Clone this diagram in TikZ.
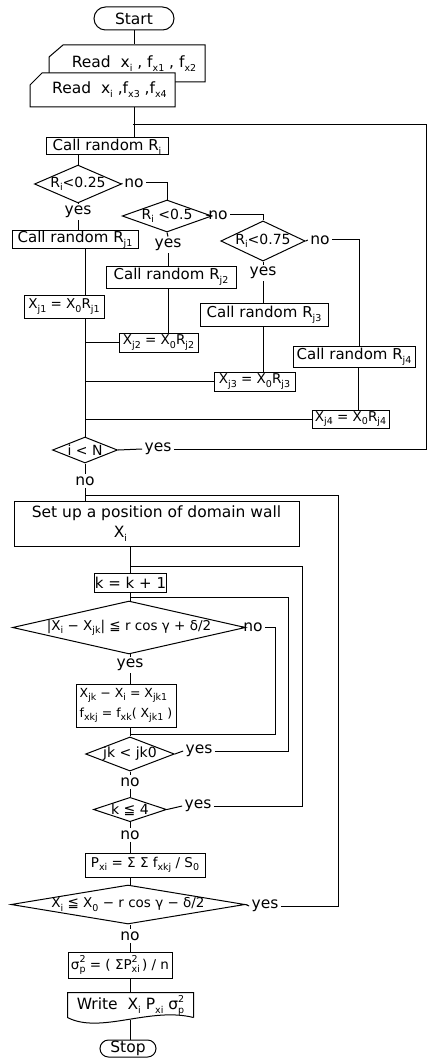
\documentclass[tikz,border=0pt]{standalone}
\usepackage{fontspec}
\setmainfont{DejaVu Sans}
\usetikzlibrary{shapes.geometric,shapes.misc}
\newcommand\fs[1]{\fontsize{#1}{20}\selectfont}
\newcommand\lo[1]{\raisebox{-0.45ex}{\fontsize{9.5}{9.5}\selectfont #1}}
\newcommand\hi[1]{\raisebox{0.85ex}{\fontsize{9.5}{9.5}\selectfont #1}}
\newcommand\lohi[2]{\rlap{\lo{#1}}\hi{#2}}
\begin{document}
\begin{tikzpicture}[x=1pt,y=-1pt,line width=1pt,
  every node/.style={inner sep=0pt,font=\fs{15}},
  box/.style={draw,rectangle,fill=white},
  fbox/.style={box,font=\fs{13.5}},
  dia/.style={draw,diamond,fill=white,font=\fs{14}},
  term/.style={draw,rounded rectangle},
  lbl/.style={inner sep=2pt,font=\fs{15.5}},
  inshape/.style={draw,fill=white}]
\useasboundingbox (0,0) rectangle (430,1059);
\coordinate (trunk) at (85,0);
\coordinate (vx) at (130,0);
% --- manual input shapes (read boxes)
\coordinate (r1a) at (63,45);  \coordinate (r1b) at (205,45);
\coordinate (r1c) at (205,82); \coordinate (r1d) at (49,82); \coordinate (r1e) at (49,57);
\coordinate (r2a) at (42,73);  \coordinate (r2b) at (175,73);
\coordinate (r2c) at (175,107); \coordinate (r2d) at (30,107); \coordinate (r2e) at (30,85);
\draw[inshape] (r1a) -- (r1b) -- (r1c) -- (r1d) -- (r1e) -- cycle;
\draw[inshape] (r2a) -- (r2b) -- (r2c) -- (r2d) -- (r2e) -- cycle;
% --- nodes
\node[term,minimum width=80,minimum height=23,font=\fs{15.5}] (start) at (134,18.5) {Start};
\node[minimum width=156,minimum height=37,font=\fs{15.5}] (read1) at (127,63.5) {\hspace*{14pt}Read\ \ x\lo{i} , f\lo{x1} , f\lo{x2}};
\node[minimum width=145,minimum height=34,font=\fs{15.5}] (read2) at (102.5,90) {\hspace*{14pt}Read\ \ x\lo{i} ,f\lo{x3} ,f\lo{x4}};
\node[box,minimum width=122,minimum height=17] (Ri) at (107,146.5) {Call random R\lo{i}};
\node[dia,minimum width=79,minimum height=34,aspect=2.3] (d1) at (78,184) {R\lo{i}<0.25};
\node[lbl] (no1) at (134,183) {no};
\node[lbl] (yes1) at (78,212) {yes};
\node[box,minimum width=126,minimum height=16] (Rj1) at (75,239.5) {Call random R\lo{j1}};
\node[dia,minimum width=73,minimum height=26,aspect=2.8] (d2) at (167,216) {R\lo{i} <0.5};
\node[lbl] (no2) at (218,215) {no};
\node[lbl] (yes2) at (168,245) {yes};
\node[box,minimum width=130,minimum height=22] (Rj2) at (171,277) {Call random R\lo{j2}};
\node[dia,minimum width=80,minimum height=38,aspect=2.1] (d3) at (263,241) {R\lo{i}<0.75};
\node[lbl] (no3) at (320,240) {no};
\node[lbl] (yes3) at (263,273) {yes};
\node[box,minimum width=128,minimum height=23] (Rj3) at (264,315) {Call random R\lo{j3}};
\node[box,minimum width=122,minimum height=21] (Rj4) at (354,356.5) {Call random R\lo{j4}};
\node[fbox,minimum width=80,minimum height=23] (Xj1) at (64,306.5) {X\lo{j1} = X\lo{0}R\lo{j1}};
\node[fbox,minimum width=79,minimum height=19] (Xj2) at (158.5,342.5) {X\lo{j2} = X\lo{0}R\lo{j2}};
\node[fbox,minimum width=81,minimum height=19] (Xj3) at (254.5,381.5) {X\lo{j3} = X\lo{0}R\lo{j3}};
\node[fbox,minimum width=77,minimum height=18] (Xj4) at (350.5,419) {X\lo{j4} = X\lo{0}R\lo{j4}};
\node[dia,minimum width=65,minimum height=26,aspect=2.5] (dN) at (85,450) {i < N};
\node[lbl] (yesN) at (158,449) {yes};
\node[lbl] (noN) at (85,481) {no};
\node[box,minimum width=285,minimum height=45,align=left,font=\fs{15.5}] (setup) at (156.5,523.5) {Set up a position of domain wall\\\hspace*{82pt}X\lo{i}};
\node[box,minimum width=53,minimum height=19] (kbox) at (130.5,582.5) {k = k + 1};
\node[dia,minimum width=217,minimum height=49,aspect=4.4,font=\fs{13.5}] (dbig) at (129,627.5) {|X\lo{i} − X\lo{jk}| ≦ r cos γ + δ/2};
\node[lbl] (noBig) at (253,627) {no};
\node[lbl] (yesBig) at (130,665) {yes};
\node[fbox,minimum width=100,minimum height=43,align=left,font=\fs{12.5}] (xjk) at (126,705.5) {X\lo{jk} − X\lo{i} = X\lo{jk1}\\f\lo{xkj} = f\lo{xk}( X\lo{jk1} )};
\node[dia,minimum width=83,minimum height=32,aspect=2.6] (djk) at (130,754) {jk < jk0};
\node[lbl] (yesjk) at (199,751) {yes};
\node[lbl] (nojk) at (130,782) {no};
\node[dia,minimum width=68,minimum height=23,aspect=3] (dk4) at (130,809.5) {k ≦ 4};
\node[lbl] (yesk4) at (198,806) {yes};
\node[lbl] (nok4) at (130,835) {no};
\node[fbox,minimum width=120,minimum height=24] (px) at (145,865) {P\lo{xi} = Σ Σ f\lo{xkj} / S\lo{0}};
\node[dia,minimum width=222,minimum height=35,aspect=6,font=\fs{13.5}] (dxi) at (128,904.5) {X\lo{i} ≦ X\lo{0} − r cos γ − δ/2};
\node[lbl] (yesxi) at (265,906) {yes};
\node[lbl] (noxi) at (130,936) {no};
\node[fbox,minimum width=104,minimum height=26] (sigma) at (120,965) {σ\lohi{p}{2} = ( ΣP\lohi{xi}{2} ) / n};
\node[minimum width=125,minimum height=24,font=\fs{15.5}] (write) at (130.5,1005) {Write\ \ X\lo{i} P\lo{xi} σ\lohi{p}{2}};
\draw (write.south east) -- (write.north east) -- (write.north west) -- (write.south west)
  .. controls ([xshift=-30.5pt,yshift=-17pt]write.south) and ([xshift=19.5pt,yshift=11pt]write.south) .. (write.south east);
\coordinate (wb) at (130.5,1019.5);
\node[term,minimum width=56,minimum height=17,font=\fs{15.5}] (stop) at (128,1048.5) {Stop};
% --- loop coordinates
\coordinate (jA) at (133,125); \coordinate (cA) at (426,125);
\coordinate (jB) at (85,495);  \coordinate (cB) at (338,495);
\coordinate (jC) at (130,566); \coordinate (cC) at (302,566);
\coordinate (jD) at (130,597); \coordinate (cD) at (288,597);
\coordinate (jE) at (130,734); \coordinate (cE) at (275,734);
% --- connectors
\draw (start.south) -- (start.south |- read1.north);
\draw (read2.south -| start.south) -- (Ri.north -| start.south);
\draw (d1.north |- Ri.south) -- (d1.north);
\draw (d1.south) -- (yes1.north);
\draw (yes1.south) -- (yes1.south |- Rj1.north);
\draw (d1.east) -- (no1.west);
\draw (no1.east) -| (d2.north);
\draw (d2.south) -- (yes2.north);
\draw (yes2.south) -- (yes2.south |- Rj2.north);
\draw (d2.east) -- (no2.west);
\draw (no2.east) -| (d3.north);
\draw (d3.south) -- (yes3.north);
\draw (yes3.south) -- (yes3.south |- Rj3.north);
\draw (d3.east) -- (no3.west);
\draw (no3.east) -| ([xshift=5pt]Rj4.north);
\draw (Rj1.south -| trunk) -- (Xj1.north -| trunk);
\draw (Xj1.south -| trunk) -- (dN.north);
\draw (Rj2.south -| yes2.south) -- (Xj2.north -| yes2.south);
\draw (Xj2.west) -- (Xj2.west -| trunk);
\draw (Rj3.south -| yes3.south) -- (Xj3.north -| yes3.south);
\draw (Xj3.west) -- (Xj3.west -| trunk);
\draw ([xshift=4pt]Rj4.south) -- ([xshift=4pt]Rj4.south |- Xj4.north);
\draw (Xj4.west) -- (Xj4.west -| trunk);
\draw (dN.east) -- (yesN.west);
\draw (yesN.east) -| (cA) -- (jA);
\draw (dN.south) -- (noN.north);
\draw (noN.south) -- (noN.south |- setup.north);
\draw (setup.south -| vx) -- (kbox.north -| vx);
\draw (kbox.south -| vx) -- (dbig.north -| vx);
\draw (dbig.east) -- (noBig.west);
\draw (noBig.east) -| (cE) -- (jE);
\draw (dbig.south -| vx) -- (yesBig.north);
\draw (yesBig.south) -- (yesBig.south |- xjk.north);
\draw (xjk.south -| vx) -- (djk.north);
\draw (djk.east) -- (yesjk.west);
\draw (yesjk.east) -| (cD) -- (jD);
\draw (djk.south) -- (nojk.north);
\draw (nojk.south) -- (dk4.north);
\draw (dk4.east) -- (yesk4.west);
\draw (yesk4.east) -| (cC) -- (jC);
\draw (dk4.south) -- (nok4.north);
\draw (nok4.south) -- (nok4.south |- px.north);
\draw (px.south -| vx) -- (dxi.north -| vx);
\draw (dxi.east) -- (yesxi.west);
\draw (yesxi.east) -| (cB) -- (jB);
\draw (dxi.south -| vx) -- (noxi.north);
\draw (noxi.south) -- (noxi.south |- sigma.north);
\draw (sigma.south -| vx) -- (write.north -| vx);
\draw (wb) -- (wb |- stop.north);
\end{tikzpicture}
\end{document}
